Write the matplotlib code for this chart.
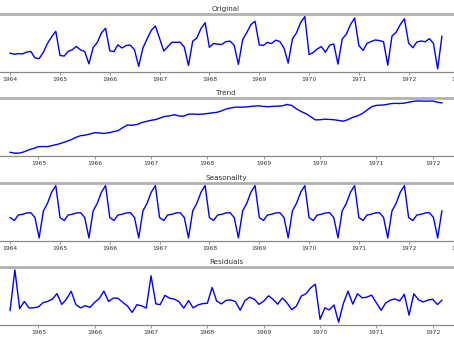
import numpy as np
import pandas as pd
import matplotlib
matplotlib.use("Agg")
import matplotlib.pyplot as plt
import matplotlib.dates as mdates

# log of monthly sales, Jan 1964 - Sep 1972
original = [7.943, 7.891, 7.921, 7.909, 7.988, 8.018, 7.733, 7.702, 7.980, 8.367, 8.659, 8.897,
            7.840, 7.814, 8.017, 8.091, 8.236, 8.080, 8.016, 7.473, 8.187, 8.406, 8.830, 9.031,
            8.043, 8.008, 8.306, 8.167, 8.278, 8.291, 8.089, 7.361, 8.168, 8.559, 8.938, 9.133,
            8.590, 8.035, 8.221, 8.415, 8.416, 8.420, 8.206, 7.404, 8.464, 8.599, 9.026, 9.273,
            8.198, 8.365, 8.332, 8.324, 8.444, 8.467, 8.285, 7.452, 8.527, 8.842, 9.196, 9.335,
            8.298, 8.283, 8.414, 8.361, 8.511, 8.450, 8.167, 7.507, 8.561, 8.835, 9.288, 9.541,
            7.878, 7.972, 8.123, 8.227, 7.982, 8.291, 8.347, 7.460, 8.560, 8.768, 9.194, 9.479,
            8.277, 8.059, 8.363, 8.450, 8.519, 8.492, 8.441, 7.414, 8.691, 8.851, 9.195, 9.447,
            8.377, 8.179, 8.429, 8.474, 8.438, 8.578, 8.366, 7.253, 8.679]

# Jul 1964 - Mar 1972
trend = [8.080, 8.072, 8.073, 8.085, 8.103, 8.115, 8.130, 8.132, 8.131, 8.141, 8.150, 8.163,
         8.177, 8.193, 8.214, 8.229, 8.234, 8.244, 8.256, 8.254, 8.249, 8.255, 8.265, 8.274,
         8.301, 8.325, 8.323, 8.329, 8.346, 8.357, 8.367, 8.374, 8.388, 8.402, 8.407, 8.417,
         8.406, 8.404, 8.422, 8.423, 8.420, 8.423, 8.428, 8.434, 8.438, 8.451, 8.468, 8.478,
         8.485, 8.485, 8.486, 8.490, 8.495, 8.497, 8.491, 8.489, 8.492, 8.494, 8.497, 8.509,
         8.500, 8.470, 8.445, 8.427, 8.400, 8.371, 8.372, 8.377, 8.375, 8.372, 8.366, 8.359,
         8.373, 8.394, 8.407, 8.427, 8.458, 8.489, 8.501, 8.503, 8.507, 8.516, 8.519, 8.518,
         8.521, 8.530, 8.538, 8.541, 8.539, 8.539, 8.540, 8.530, 8.523]

# one year of the seasonal pattern, Jan - Dec
season_year = [-0.199, -0.299, -0.114, -0.087, -0.043, -0.034,
               -0.196, -0.889, 0.027, 0.283, 0.665, 0.886]

# Jul 1964 - Mar 1972
residuals = [-0.150, 0.519, -0.120, -0.001, -0.108, -0.104, -0.090, -0.019, -0.000, 0.037, 0.129, -0.049,
             0.035, 0.168, -0.054, -0.106, -0.069, -0.099, -0.013, 0.053, 0.171, -0.001, 0.055, 0.051,
             -0.015, -0.075, -0.182, -0.054, -0.073, -0.110, 0.422, -0.040, -0.053, 0.100, 0.052, 0.038,
             -0.004, -0.110, 0.014, -0.106, -0.059, -0.036, -0.031, 0.230, 0.008, -0.041, 0.018, 0.023,
             -0.003, -0.144, 0.014, 0.069, 0.036, -0.048, 0.006, 0.093, 0.036, -0.046, 0.056, -0.025,
             -0.137, -0.074, 0.088, 0.125, 0.223, 0.284, -0.294, -0.106, -0.139, -0.059, -0.342, -0.035,
             0.170, -0.044, 0.126, 0.058, 0.071, 0.104, -0.024, -0.146, -0.030, 0.021, 0.042, 0.008,
             0.117, -0.227, 0.126, 0.027, -0.009, 0.022, 0.037, -0.052, 0.020]

dates = pd.date_range("1964-01-01", periods=len(original), freq="MS")
mid_dates = pd.date_range("1964-07-01", periods=len(trend), freq="MS")
seasonality = np.tile(season_year, len(dates) // 12 + 1)[:len(dates)]

panels = [
    ("Original", dates, original),
    ("Trend", mid_dates, trend),
    ("Seasonality", dates, seasonality),
    ("Residuals", mid_dates, residuals),
]

W, H = 454, 341
fig = plt.figure(figsize=(W / 100, H / 100), dpi=100)

tops = [14, 98.3, 183, 267.3]
ax_h = 57.5
left_px, width_px = -11.5, 475

for (title, x, y), top in zip(panels, tops):
    ax = fig.add_axes([left_px / W, (H - top - ax_h) / H, width_px / W, ax_h / H])
    ax.plot(x, y, color="#0000ff", linewidth=1.0)
    ax.set_title(title, fontsize=5.2, color="#333333", pad=2.5)
    ax.set_yticks([])
    ax.spines["left"].set_visible(False)
    ax.spines["right"].set_visible(False)
    ax.spines["top"].set_color("#b0b0b0")
    ax.spines["top"].set_linewidth(2.0)
    ax.spines["bottom"].set_color("#888888")
    ax.spines["bottom"].set_linewidth(0.9)
    ax.xaxis.set_major_locator(mdates.YearLocator())
    ax.xaxis.set_major_formatter(mdates.DateFormatter("%Y"))
    ax.tick_params(axis="x", labelsize=4.3, length=2, width=0.6, color="#888888",
                   labelcolor="#333333", pad=2)

fig.savefig("out.png", dpi=100)
